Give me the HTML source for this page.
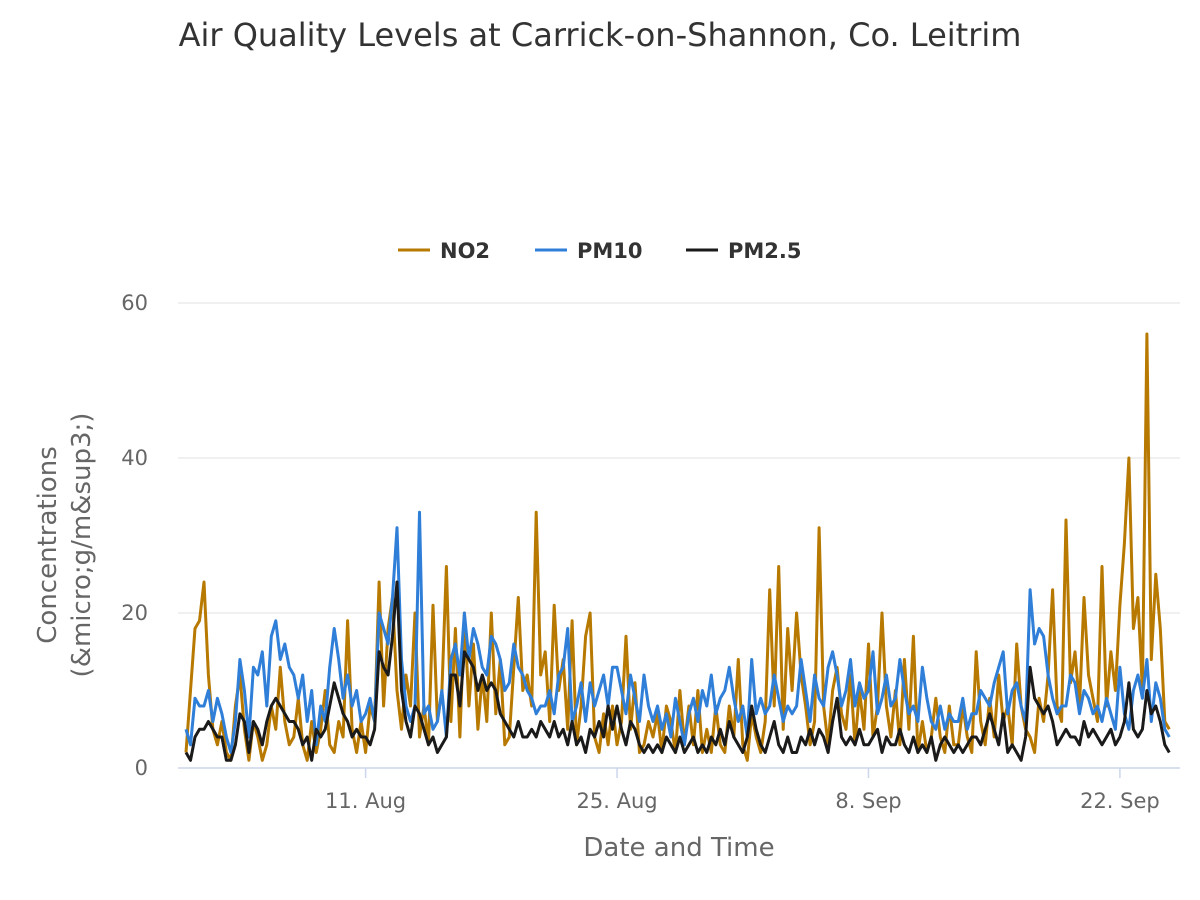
<!DOCTYPE html>
<html><head><meta charset="utf-8"><style>
body{margin:0;background:#fff;font-family:"DejaVu Sans","Liberation Sans",sans-serif}
svg{display:block;font-family:"DejaVu Sans","Liberation Sans",sans-serif}
</style></head><body>
<svg id="chart" width="1200" height="900" xmlns="http://www.w3.org/2000/svg">
<text x="600" y="46" text-anchor="middle" font-size="32" fill="#333">Air Quality Levels at Carrick-on-Shannon, Co. Leitrim</text>
<g>
<g><line x1="398" y1="250" x2="430" y2="250" stroke="#b77900" stroke-width="3"/><text x="440" y="258" font-size="21" font-weight="bold" fill="#333">NO2</text></g>
<g><line x1="535" y1="250" x2="567" y2="250" stroke="#2f7ed8" stroke-width="3"/><text x="577" y="258" font-size="21" font-weight="bold" fill="#333">PM10</text></g>
<g><line x1="686" y1="250" x2="718" y2="250" stroke="#1a1a1a" stroke-width="3"/><text x="728" y="258" font-size="21" font-weight="bold" fill="#333">PM2.5</text></g>
</g>
<g id="grid"></g>
<g id="yticks"></g>
<g id="xticks"></g>
<g id="series"></g>
<text x="679" y="856" text-anchor="middle" font-size="26" fill="#666">Date and Time</text>
<text transform="translate(56,545) rotate(-90)" text-anchor="middle" font-size="26" fill="#666"><tspan x="0" dy="0">Concentrations</tspan><tspan x="0" dy="34">(&amp;micro;g/m&amp;sup3;)</tspan></text>
</svg>
<script>
const yTicks=[0,20,40,60];
const xTickLabels=["11. Aug","25. Aug","8. Sep","22. Sep"];
const xTickDays=[10,24,38,52];
const stepDays=0.25;
const no2=[2,10,18,19, 24,12,5,3, 6,2,1,8, 12,5,1,6, 4,1,3,8, 5,13,6,3, 4,9,3,1, 6,2,5,10, 3,2,6,4, 19,5,2,6,
2,8,6,24, 8,18,22,10, 5,12,8,20, 4,8,3,21, 6,10,26,6, 18,4,20,8, 16,5,12,6, 20,7,14,3, 4,13,22,10, 12,8,33,12,
15,6,21,10, 14,5,19,3, 8,17,20,4, 2,7,3,8, 3,6,17,5, 11,2,3,6, 4,7,2,8, 6,2,10,3, 8,3,10,2, 5,2,8,3,
2,8,4,14, 3,1,7,4, 2,6,23,8, 26,5,18,10, 20,12,8,3, 6,31,8,3, 10,13,7,5, 12,3,10,5, 16,4,8,20, 8,4,10,3,
14,5,17,2, 6,2,4,9, 4,2,8,3, 3,8,4,2, 15,6,3,9, 4,12,6,8, 3,16,8,5, 4,2,9,6, 12,23,8,6, 32,11,15,8,
22,12,9,6, 26,8,15,10, 21,29,40,18, 22,10,56,14, 25,18,6,5];
const pm10=[5,3,9,8, 8,10,6,9, 7,4,2,6, 14,10,4,13, 12,15,8,17, 19,14,16,13, 12,9,12,6, 10,3,8,6, 13,18,14,9, 12,8,10,6,
7,9,6,20, 18,16,22,31, 14,8,6,8, 33,7,8,5, 6,10,4,14, 16,12,20,14, 18,16,13,12, 17,16,14,10, 11,16,13,12, 10,9,7,8,
8,10,7,12, 13,18,6,8, 11,6,11,8, 10,12,8,13, 13,10,7,12, 9,6,12,8, 6,8,5,7, 4,9,6,3, 7,9,6,10, 8,12,7,9,
10,13,9,6, 8,4,14,7, 9,7,8,12, 9,6,8,7, 8,14,10,6, 12,9,8,13, 15,12,8,10, 14,8,11,9, 10,15,7,9, 12,8,9,14,
10,7,8,6, 13,9,6,5, 8,5,7,6, 6,9,5,7, 7,10,9,8, 11,13,15,7, 10,11,8,6, 23,16,18,17, 12,9,7,8, 8,12,11,7,
10,9,7,8, 6,9,7,5, 13,7,5,10, 12,9,14,6, 11,9,5,4];
const pm25=[2,1,4,5, 5,6,5,4, 4,1,1,3, 7,6,2,6, 5,3,6,8, 9,8,7,6, 6,5,3,4, 1,5,4,5, 8,11,9,7, 6,4,5,4,
4,3,5,15, 13,12,17,24, 10,6,4,8, 7,5,3,4, 2,3,4,12, 12,8,15,14, 13,10,12,10, 11,10,7,6, 5,4,6,4, 4,5,4,6,
5,4,6,4, 5,3,6,3, 4,2,5,4, 6,4,8,5, 8,5,3,6, 5,3,2,3, 2,3,2,4, 3,2,4,2, 3,4,2,3, 2,4,3,5,
3,6,4,3, 2,4,8,5, 3,2,4,6, 3,2,4,2, 2,4,3,5, 3,5,4,2, 6,9,4,3, 4,3,5,3, 3,4,5,2, 4,3,3,5,
3,2,4,2, 3,2,4,1, 3,4,3,2, 3,2,3,4, 4,3,5,7, 5,3,7,2, 3,2,1,4, 13,9,8,7, 8,6,3,4, 5,4,4,3,
6,4,5,4, 3,4,5,3, 4,6,11,5, 4,5,10,7, 8,6,3,2];
const NS="http://www.w3.org/2000/svg";
const plotL=178,plotR=1180,y0=768,yTop=303,yMax=60;
function yScale(v){return y0-(v/yMax)*(y0-yTop);}
function xScale(d){return 186+d*17.96;}
const grid=document.getElementById('grid'),yt=document.getElementById('yticks'),xt=document.getElementById('xticks'),ser=document.getElementById('series');
yTicks.forEach(v=>{
  const l=document.createElementNS(NS,'line');
  l.setAttribute('x1',plotL);l.setAttribute('x2',plotR);l.setAttribute('y1',yScale(v));l.setAttribute('y2',yScale(v));
  l.setAttribute('stroke',v===0?'#ccd6eb':'#e6e6e6');l.setAttribute('stroke-width',v===0?1.5:1.3);
  
  
  grid.appendChild(l);
  const t=document.createElementNS(NS,'text');
  t.setAttribute('x',148);t.setAttribute('y',yScale(v)+7);t.setAttribute('text-anchor','end');
  t.setAttribute('font-size','21');t.setAttribute('fill','#666');t.textContent=v;
  
  
  yt.appendChild(t);
});
xTickDays.forEach((d,i)=>{
  const x=xScale(d);
  const l=document.createElementNS(NS,'line');
  l.setAttribute('x1',x);l.setAttribute('x2',x);l.setAttribute('y1',y0);l.setAttribute('y2',y0+10);
  l.setAttribute('stroke','#ccd6eb');l.setAttribute('stroke-width',1.5);
  
  
  xt.appendChild(l);
  const t=document.createElementNS(NS,'text');
  t.setAttribute('x',x);t.setAttribute('y',808);t.setAttribute('text-anchor','middle');
  t.setAttribute('font-size','21');t.setAttribute('fill','#666');t.textContent=xTickLabels[i];
  
  
  xt.appendChild(t);
});
function draw(arr,color,name){
  const p=document.createElementNS(NS,'path');
  p.setAttribute('d',arr.map((v,i)=>(i?'L':'M')+xScale(i*stepDays).toFixed(1)+' '+yScale(v).toFixed(1)).join(' '));
  p.setAttribute('fill','none');p.setAttribute('stroke',color);p.setAttribute('stroke-width','3');p.setAttribute('stroke-linejoin','round');
  
  
  ser.appendChild(p);
}
draw(no2,'#b77900','no2-line');
draw(pm10,'#2f7ed8','pm10-line');
draw(pm25,'#1a1a1a','pm25-line');
</script>
</body></html>
